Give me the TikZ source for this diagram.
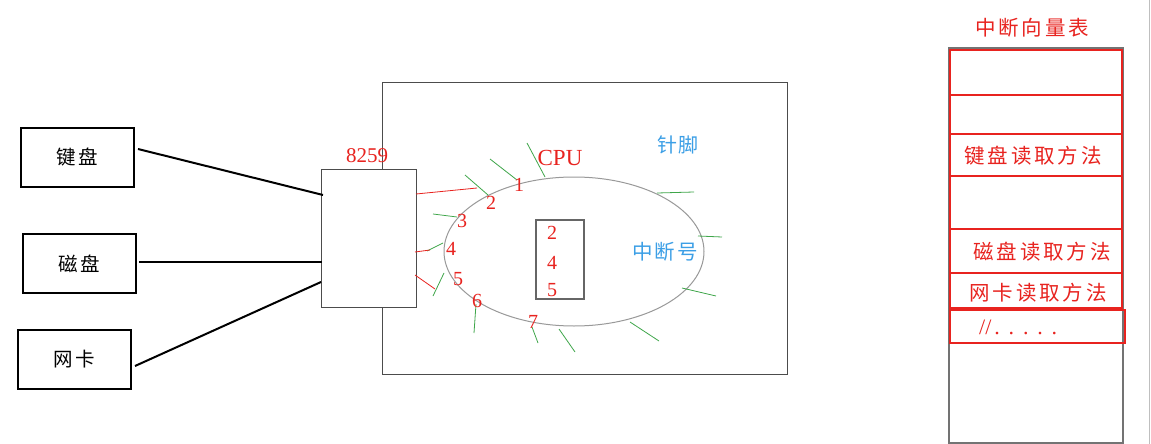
\documentclass[tikz,border=0pt]{standalone}
\usepackage{fontspec}
\setmainfont{Liberation Serif}
\newfontfamily\cjk{Noto Sans CJK SC}
\newfontfamily\cjkwide[LetterSpace=14]{Noto Sans CJK SC}
\newfontfamily\cjkmid[LetterSpace=9]{Noto Sans CJK SC}
\newfontfamily\dotwide[LetterSpace=40]{Liberation Serif}
\begin{document}
\begin{tikzpicture}[x=1pt,y=-1pt,
  dev/.style={draw=black,line width=2pt,inner sep=0pt,font=\cjkwide\fontsize{19.5}{19.5}\selectfont},
  grayline/.style={draw=black!60,line width=1pt},
  red/.style={text=myred},
  num/.style={text=myred,font=\fontsize{20}{20}\selectfont,inner sep=0pt},
  bluetxt/.style={text=myblue,font=\cjkmid\fontsize{20}{20}\selectfont,inner sep=0pt},
  pin/.style={draw=mygreen,line width=0.8pt},
  redwire/.style={draw=myred,line width=0.8pt},
  row/.style={draw=myred,line width=1.8pt,inner sep=0pt,minimum width=172pt,anchor=north west},
  rowtxt/.style={text=myred,font=\cjkwide\fontsize{20.5}{20.5}\selectfont,inner sep=0pt},
]
\definecolor{myred}{HTML}{E8231F}
\definecolor{myblue}{HTML}{3C9FE6}
\definecolor{mygreen}{HTML}{3FA64A}
\useasboundingbox (0,0) rectangle (1151,444);
\fill[white] (0,0) rectangle (1151,444);

% big CPU rectangle
\node[grayline,draw=black!70,minimum width=405pt,minimum height=292pt,inner sep=0pt,anchor=north west] (board) at (382,82) {};

% devices
\node[dev,minimum width=113pt,minimum height=59pt,anchor=north west] (kb) at (20,127) {键盘};
\node[dev,minimum width=113pt,minimum height=59pt,anchor=north west] (disk) at (22,233) {磁盘};
\node[dev,minimum width=113pt,minimum height=59pt,anchor=north west] (nic) at (17,329) {网卡};

% 8259
\node[grayline,draw=black!70,fill=white,minimum width=95pt,minimum height=138pt,inner sep=0pt,anchor=north west] (pic) at (321,169) {};
\node[num,font=\fontsize{21}{21}\selectfont] (picl) at (367,156) {8259};

\coordinate (kbo) at (138,149);
\coordinate (kbi) at (323,195);
\coordinate (dko) at (139,262);
\coordinate (dki) at (322,262);
\coordinate (nko) at (135,366);
\coordinate (nki) at (321,282);
\draw[line width=2pt] (kbo) -- (kbi);
\draw[line width=2pt] (dko) -- (dki);
\draw[line width=2pt] (nko) -- (nki);

% CPU ellipse
\draw[draw=black!40,line width=1pt] (574,251.5) ellipse [x radius=130, y radius=74.5];
\node[red,font=\fontsize{23}{23}\selectfont,inner sep=0pt] (cpul) at (560,158) {CPU};
\node[bluetxt] (pinl) at (678,145) {针脚};
\node[bluetxt,font=\cjkmid\fontsize{20.5}{20.5}\selectfont] (irql) at (665,252) {中断号};

% inner box
\node[draw=black!60,line width=2pt,minimum width=48pt,minimum height=79pt,inner sep=0pt,anchor=north west] (ibox) at (535,219) {};
\node[num] (b2) at (552,233) {2};
\node[num] (b4) at (552,263) {4};
\node[num] (b5) at (552,290) {5};

% pins
\coordinate (g1a) at (527,143); \coordinate (g1b) at (545,177);
\coordinate (g2a) at (490,159); \coordinate (g2b) at (517,180);
\coordinate (g3a) at (465,175); \coordinate (g3b) at (488,195);
\coordinate (g4a) at (433,214); \coordinate (g4b) at (457,217);
\coordinate (g5a) at (427,251); \coordinate (g5b) at (443,243);
\coordinate (g6a) at (444,273); \coordinate (g6b) at (433,296);
\coordinate (g7a) at (476,304); \coordinate (g7b) at (474,333);
\coordinate (g8a) at (532,327); \coordinate (g8b) at (538,343);
\coordinate (g9a) at (559,329); \coordinate (g9b) at (575,352);
\coordinate (g10a) at (630,322); \coordinate (g10b) at (659,341);
\coordinate (g11a) at (682,288); \coordinate (g11b) at (716,296);
\coordinate (g12a) at (698,236); \coordinate (g12b) at (722,237);
\coordinate (g13a) at (657,193); \coordinate (g13b) at (694,192);
\foreach \i in {1,...,13} {\draw[pin] (g\i a) -- (g\i b);}

% red wires from 8259
\coordinate (r1a) at (416,194); \coordinate (r1b) at (477,188);
\coordinate (r2a) at (415,252); \coordinate (r2b) at (430,250);
\coordinate (r3a) at (415,275); \coordinate (r3b) at (435,289);
\draw[redwire] (r1a) -- (r1b);
\draw[redwire] (r2a) -- (r2b);
\draw[redwire] (r3a) -- (r3b);

% pin numbers
\node[num] (n1) at (519,185) {1};
\node[num] (n2) at (491,203) {2};
\node[num] (n3) at (462,221) {3};
\node[num] (n4) at (451,249) {4};
\node[num] (n5) at (458,279) {5};
\node[num] (n6) at (477,301) {6};
\node[num] (n7) at (533,322) {7};

% vector table
\node[rowtxt] (ivtl) at (1032,28) {中断向量表};
\node[draw=black!55,line width=2pt,minimum width=174pt,minimum height=395pt,inner sep=0pt,anchor=north west] (ivt) at (948,47) {};
\node[row,minimum height=45pt] (v1) at (949,49) {};
\node[row,minimum height=39pt] (v2) at (949,94) {};
\node[row,minimum height=42pt] (v3) at (949,133) {};
\node[row,minimum height=53pt] (v4) at (949,175) {};
\node[row,minimum height=44pt] (v5) at (949,228) {};
\node[row,minimum height=35pt] (v6) at (949,272) {};
\node[row,minimum height=33pt,minimum width=175pt] (v7) at (949,309) {};
\node[rowtxt] (t3) at (1033,156) {键盘读取方法};
\node[rowtxt] (t5) at (1042,252) {磁盘读取方法};
\node[rowtxt] (t6) at (1038,293) {网卡读取方法};
\node[text=myred,font=\fontsize{22}{22}\selectfont,inner sep=0pt,anchor=west] (t7) at (979,327) {//\hspace{3pt}{\dotwide .....}};

% right edge line
\coordinate (ea) at (1149,0); \coordinate (eb) at (1149,444);
\draw[draw=black!25,line width=0.8pt] (ea) -- (eb);
\end{tikzpicture}
\end{document}
